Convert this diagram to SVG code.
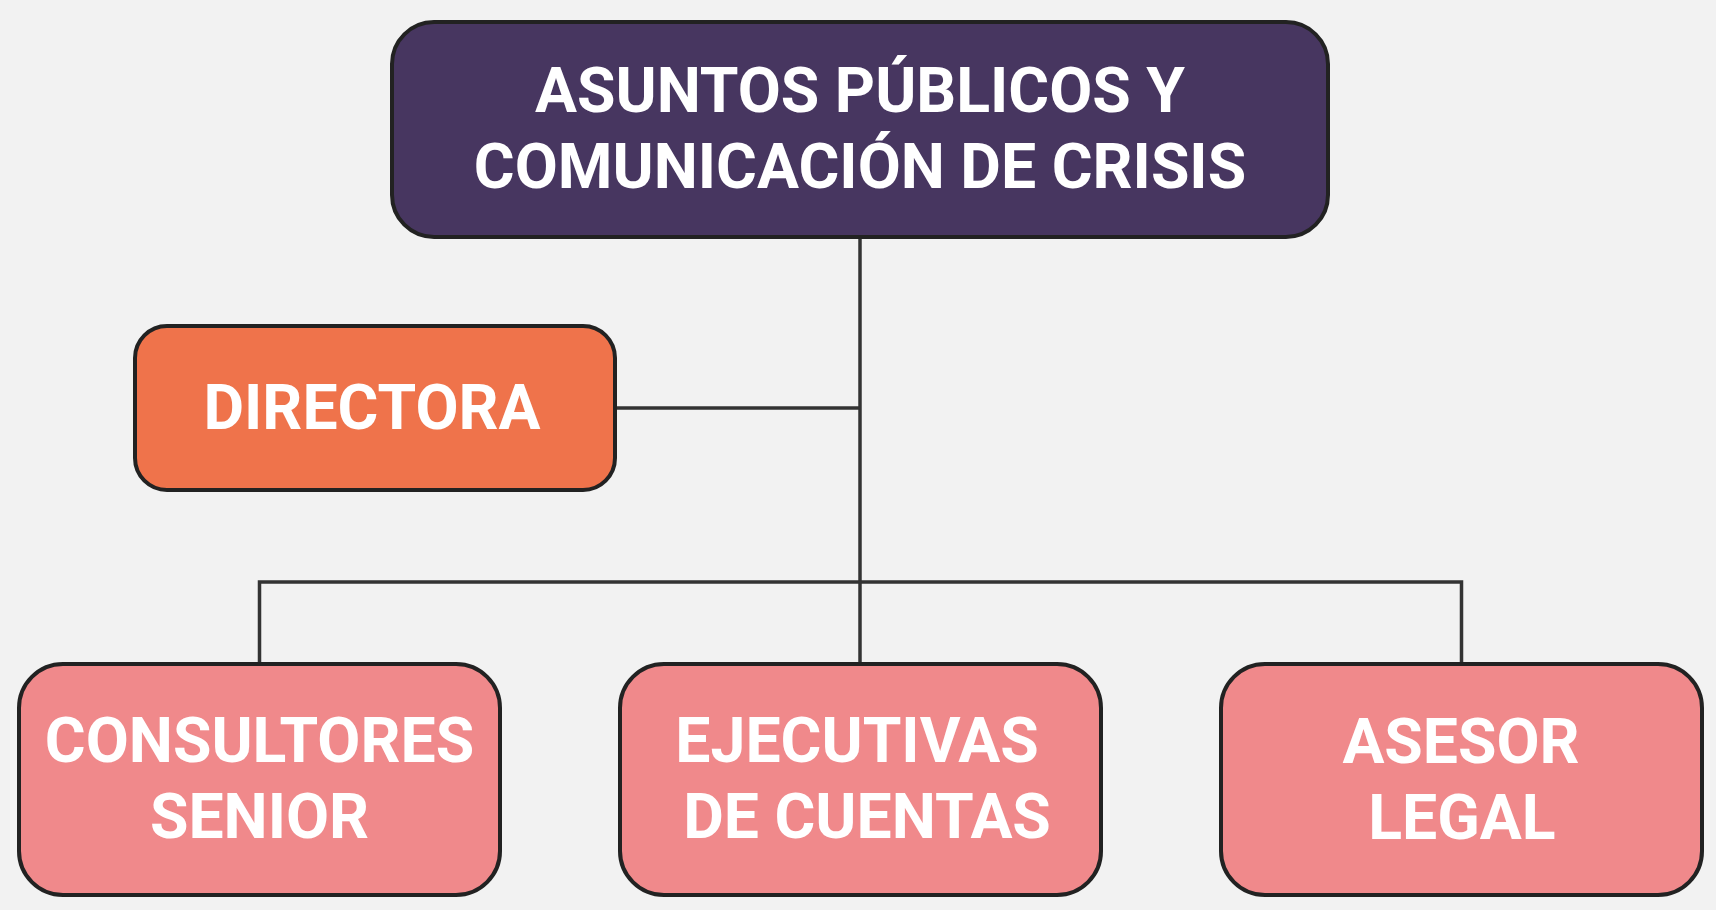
<svg xmlns="http://www.w3.org/2000/svg" width="1716" height="910" viewBox="0 0 1716 910">
  <style>
    .box { stroke: #222222; stroke-width: 4; }
    .top { fill: #473660; }
    .dir { fill: #EF734B; }
    .sub { fill: #F0898B; }
    .lbl { font-family: Roboto, "Liberation Sans", sans-serif; font-weight: bold; font-size: 62.5px; fill: #FFFFFF; text-anchor: middle; }
    .conn { stroke: #333333; stroke-width: 3.5; fill: none; }
  </style>
  <rect x="0" y="0" width="1716" height="910" fill="#F2F2F2"/>
  <g id="connectors">
    <line class="conn" x1="860" y1="237" x2="860" y2="664"/>
    <line class="conn" x1="615" y1="408" x2="860" y2="408"/>
    <polyline class="conn" points="259.5,664 259.5,582 1461.5,582 1461.5,664"/>
  </g>
  <g id="node-top">
    <rect class="box top" x="392" y="22" width="936" height="215" rx="42" ry="42"/>
    <text class="lbl" x="860" y="112">ASUNTOS PÚBLICOS Y</text>
    <text class="lbl" x="860" y="188">COMUNICACIÓN DE CRISIS</text>
  </g>
  <g id="node-directora">
    <rect class="box dir" x="135" y="326" width="480" height="164" rx="32" ry="32"/>
    <text class="lbl" x="372" y="429">DIRECTORA</text>
  </g>
  <g id="node-consultores">
    <rect class="box sub" x="19" y="664" width="481" height="231" rx="44" ry="44"/>
    <text class="lbl" x="259.5" y="762">CONSULTORES</text>
    <text class="lbl" x="259.5" y="838">SENIOR</text>
  </g>
  <g id="node-ejecutivas">
    <rect class="box sub" x="620" y="664" width="481" height="231" rx="44" ry="44"/>
    <text class="lbl" x="857" y="762">EJECUTIVAS</text>
    <text class="lbl" x="867" y="838">DE CUENTAS</text>
  </g>
  <g id="node-asesor">
    <rect class="box sub" x="1221" y="664" width="481" height="231" rx="44" ry="44"/>
    <text class="lbl" x="1461" y="763">ASESOR</text>
    <text class="lbl" x="1462" y="839">LEGAL</text>
  </g>
</svg>
